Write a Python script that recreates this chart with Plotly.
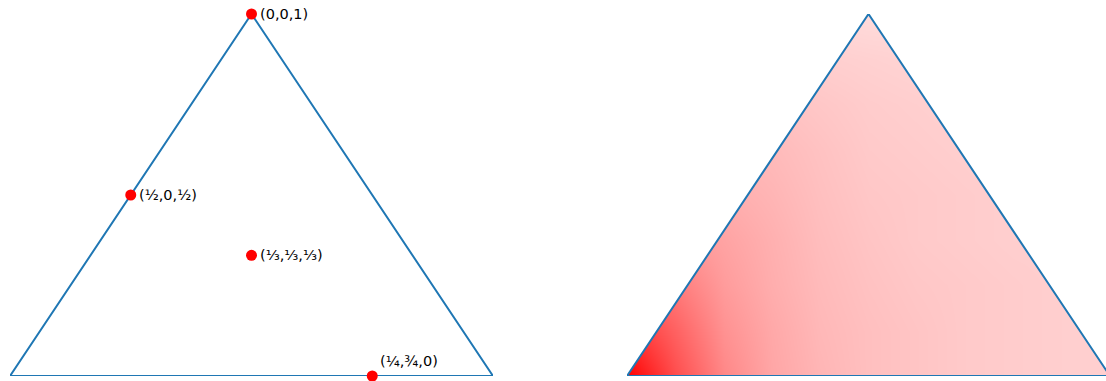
import plotly.graph_objects as go

# ---- Left panel data: barycentric points and labels ----
bary_a = [0.0, 0.5, 1/3, 0.25]
bary_b = [0.0, 0.0, 1/3, 0.75]
bary_c = [1.0, 0.5, 1/3, 0.0]
point_labels = ["(0,0,1)", "(½,0,½)", "(⅓,⅓,⅓)", "(¼,¾,0)"]

# ---- Right panel data: estimated point density (0 = white, 1 = red) ----
grid_x = [0.0, 0.1, 0.2, 0.3, 0.4, 0.5, 0.6, 0.7, 0.8, 0.9, 1.0]
grid_y = [0.0, 0.108, 0.217, 0.325, 0.433, 0.541, 0.65, 0.758, 0.866]
density = [
    [1.00, 0.70, 0.47, 0.35, 0.29, 0.25, 0.23, 0.21, 0.20, 0.19, 0.19],
    [0.80, 0.62, 0.43, 0.34, 0.28, 0.25, 0.23, 0.21, 0.20, 0.19, 0.19],
    [0.58, 0.52, 0.39, 0.32, 0.27, 0.24, 0.22, 0.21, 0.20, 0.19, 0.19],
    [0.43, 0.41, 0.36, 0.31, 0.26, 0.23, 0.21, 0.20, 0.19, 0.19, 0.19],
    [0.33, 0.33, 0.32, 0.29, 0.25, 0.22, 0.21, 0.20, 0.19, 0.19, 0.19],
    [0.28, 0.28, 0.28, 0.27, 0.24, 0.21, 0.20, 0.19, 0.18, 0.18, 0.18],
    [0.25, 0.25, 0.25, 0.24, 0.22, 0.20, 0.19, 0.18, 0.17, 0.17, 0.17],
    [0.20, 0.20, 0.20, 0.20, 0.19, 0.18, 0.17, 0.16, 0.16, 0.16, 0.16],
    [0.15, 0.15, 0.15, 0.15, 0.15, 0.14, 0.14, 0.14, 0.14, 0.14, 0.14],
]

H = 3 ** 0.5 / 2
tri_x = [0.0, 1.0, 0.5, 0.0]
tri_y = [0.0, 0.0, H, 0.0]

px = [b + c / 2 for b, c in zip(bary_b, bary_c)]
py = [c * H for c in bary_c]

LINE = "#1f77b4"
W, Hpx = 1106, 381
TRI_W = 483  # triangle width in pixels
R_LEFT = 627  # right triangle's left vertex, pixels

fig = go.Figure()

# Left triangle outline
fig.add_trace(go.Scatter(x=tri_x, y=tri_y, mode="lines",
                         line=dict(color=LINE, width=2),
                         xaxis="x", yaxis="y", hoverinfo="skip", cliponaxis=False))
# Left points
fig.add_trace(go.Scatter(x=px, y=py, mode="markers",
                         marker=dict(color="red", size=11),
                         xaxis="x", yaxis="y", cliponaxis=False))

# Right density
fig.add_trace(go.Heatmap(x=grid_x, y=grid_y, z=density, zmin=0, zmax=1,
                         colorscale=[[0, "white"], [1, "red"]],
                         zsmooth="best", showscale=False,
                         xaxis="x2", yaxis="y2", hoverinfo="skip"))

annotations = []
for i, (x, y, t) in enumerate(zip(px, py, point_labels)):
    annotations.append(dict(x=x, y=y, xref="x", yref="y", text=t, showarrow=False,
                            xanchor="left", yanchor="middle",
                            xshift=6, yshift=(15 if i == 3 else 0),
                            font=dict(family="DejaVu Sans", size=14.5, color="black")))

shapes = [
    dict(type="path", xref="x2", yref="y2", layer="above",
         path=f"M -0.02 -0.02 L 0 0 L 0.5 {H} L 0.5 {H+0.05} L -0.02 {H+0.05} Z",
         fillcolor="white", line=dict(width=0)),
    dict(type="path", xref="x2", yref="y2", layer="above",
         path=f"M 1.02 -0.02 L 1 0 L 0.5 {H} L 0.5 {H+0.05} L 1.02 {H+0.05} Z",
         fillcolor="white", line=dict(width=0)),
    dict(type="path", xref="x2", yref="y2", layer="above",
         path=f"M 0 0 L 1 0 L 0.5 {H} Z",
         fillcolor="rgba(0,0,0,0)", line=dict(color=LINE, width=2)),
]

ax = dict(visible=False, showgrid=False, zeroline=False, fixedrange=True)
fig.update_layout(
    width=W, height=Hpx,
    margin=dict(l=0, r=0, t=0, b=0),
    paper_bgcolor="white", plot_bgcolor="white",
    showlegend=False,
    xaxis=dict(ax, domain=[10 / W, 493 / W], range=[0, 1]),
    yaxis=dict(ax, domain=[5 / Hpx, 367 / Hpx], range=[0, H]),
    xaxis2=dict(ax, domain=[R_LEFT / W, 1], range=[0, (W - R_LEFT) / TRI_W]),
    yaxis2=dict(ax, domain=[5 / Hpx, 367 / Hpx], range=[0, H], anchor="x2"),
    annotations=annotations,
    shapes=shapes,
)

fig.write_html("out.html", config={"displayModeBar": False},
               post_script="document.body.style.margin='0';document.body.style.overflow='hidden';")
